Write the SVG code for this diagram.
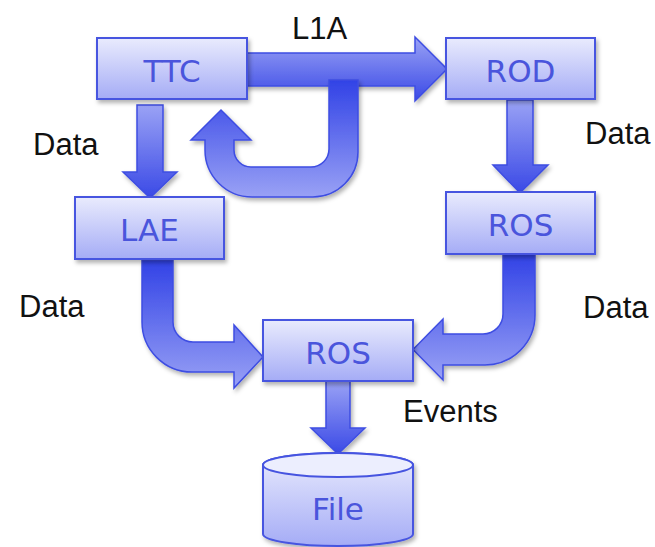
<svg xmlns="http://www.w3.org/2000/svg" width="655" height="547" viewBox="0 0 655 547">
<defs>
<linearGradient id="boxG" x1="0" y1="0" x2="0" y2="1">
<stop offset="0" stop-color="#e9ebfd"/>
<stop offset="1" stop-color="#a5acf6"/>
</linearGradient>
<linearGradient id="arrG" x1="0" y1="0" x2="0" y2="1">
<stop offset="0" stop-color="#9aa2f5"/>
<stop offset="1" stop-color="#3a49e6"/>
</linearGradient>
<linearGradient id="arrR" x1="0" y1="0" x2="0" y2="1">
<stop offset="0" stop-color="#3142e6"/>
<stop offset="1" stop-color="#99a1f5"/>
</linearGradient>
<filter id="sh" x="-10%" y="-10%" width="130%" height="140%">
<feDropShadow dx="2" dy="3" stdDeviation="2" flood-color="#000" flood-opacity="0.3"/>
</filter>
<style>
.box{fill:url(#boxG);stroke:#4654e0;stroke-width:2;filter:url(#sh)}
.arr{fill:url(#arrG);stroke:#3e4de2;stroke-width:1.5;stroke-linejoin:miter;filter:url(#sh)}
.arrR{fill:url(#arrR);stroke:#3e4de2;stroke-width:1.5;filter:url(#sh)}
.nt{font-family:"DejaVu Sans",Verdana,sans-serif;font-size:31px;fill:#4a55dc;text-anchor:middle}
.lb{font-family:"Liberation Sans",Arial,sans-serif;font-size:31px;fill:#111}
</style>
</defs>
<g id="connectors">
<path id="l1a" class="arr" d="M245,53 L415,53 L415,37 L447,69 L415,101 L415,86 L245,86 Z"/>
<path id="uturn" class="arrR" d="M329,80 L358,80 L358,152 A45,45 0 0 1 313,197 L252,197 A47,47 0 0 1 205,150 L205,140 L191,140 L221,110 L251,140 L234,140 L234,150 A17,17 0 0 0 251,167 L311,167 A18,18 0 0 0 329,149 Z"/>
<path id="ttc-lae" class="arr" d="M137,105 L163,105 L163,172 L177,172 L150,198 L123,172 L137,172 Z"/>
<path id="rod-ros" class="arr" d="M507,100 L533,100 L533,165 L548,165 L520,193 L493,165 L507,165 Z"/>
<path id="lae-ros" class="arrR" d="M142,260 L173,260 L173,322 A20,20 0 0 0 193,342 L234,342 L234,325 L263,357 L234,388 L234,372 L192,372 A50,50 0 0 1 142,322 Z"/>
<path id="ros-ros" class="arrR" d="M503,254 L535,254 L535,315 A50,50 0 0 1 485,365 L443,365 L443,380 L413,349.5 L443,319 L443,334 L483,334 A20,20 0 0 0 503,314 Z"/>
<path id="ros-file" class="arr" d="M326,381 L350,381 L350,428 L365,428 L338,454 L311,428 L326,428 Z"/>
</g>
<g id="ttc"><rect class="box" x="97" y="38" width="150" height="61"/><text class="nt" x="172" y="82">TTC</text></g>
<g id="rod"><rect class="box" x="446" y="38" width="149" height="61"/><text class="nt" x="520.5" y="82">ROD</text></g>
<g id="lae"><rect class="box" x="75" y="197" width="149" height="62"/><text class="nt" x="149.5" y="241">LAE</text></g>
<g id="ros1"><rect class="box" x="446" y="192" width="149" height="62"/><text class="nt" x="520.5" y="236">ROS</text></g>
<g id="ros2"><rect class="box" x="263" y="320" width="150" height="61"/><text class="nt" x="338" y="364">ROS</text></g>
<g id="file">
<path class="box" d="M263,465 A75,12 0 0 1 413,465 L413,534 A75,12 0 0 1 263,534 Z"/>
<ellipse cx="338" cy="465" rx="75" ry="12" fill="#eceefe" stroke="#4654e0" stroke-width="2"/>
<text class="nt" x="338" y="520">File</text>
</g>
<g id="labels">
<text class="lb" x="292" y="39">L1A</text>
<text class="lb" x="33" y="155">Data</text>
<text class="lb" x="585" y="144">Data</text>
<text class="lb" x="19" y="317">Data</text>
<text class="lb" x="583" y="318">Data</text>
<text class="lb" x="403" y="422">Events</text>
</g>
</svg>
